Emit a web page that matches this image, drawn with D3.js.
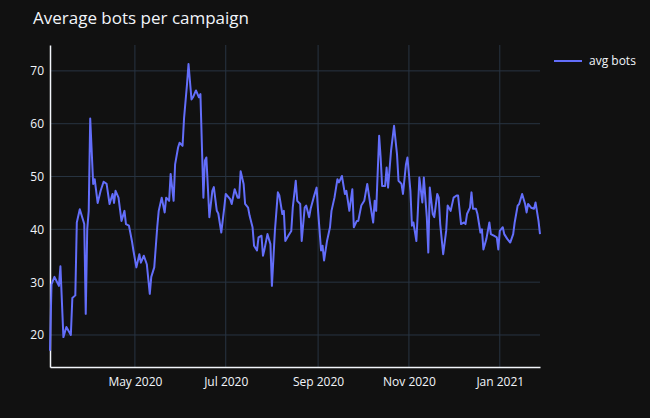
<!DOCTYPE html><html><head><meta charset="utf-8">
<script src="https://cdn.jsdelivr.net/npm/d3@7"></script>
<style>body{margin:0;background:#111}text{font-family:"Open Sans",sans-serif}</style></head><body>
<svg id="c" width="650" height="418"></svg>
<script>
const startDate = "2020-03-04";
const dayOffsets = [1,2,4,7,8,10,12,15,16,18,19,21,24,25,26,27,28,30,31,33,35,37,39,41,43,44,45,47,49,51,52,54,56,57,59,61,62,64,66,68,69,71,73,74,76,78,79,81,82,84,85,87,88,90,91,93,94,96,97,99,101,102,104,105,106,108,110,
111,113,114,116,118,119,122,123,125,127,128,129,131,132,134,135,137,138,140,141,143,144,145,147,149,150,152,154,155,157,158,159,161,163,164,166,167,169,170,172,173,175,176,178,180,181,183,184,185,187,189,190,192,194,195,197,199,200,202,204,205,207,208,210,212,214,215,
216,218,219,220,222,223,224,226,227,228,230,232,234,235,237,238,240,241,243,244,245,247,248,249,251,252,254,255,256,258,259,261,262,263,265,267,268,270,272,274,275,277,279,280,281,283,284,285,287,288,290,291,292,294,296,297,299,301,302,303,305,306,308,310,312,313,315,316,318,320,321,322,324,326,327,329,330];
const avgBots = [17,29.6,31,29.3,33,19.6,21.5,20,27,27.5,41.3,43.8,41,24,40,43.5,61,48.6,49.5,45,47.3,49,48.6,44.8,46.7,45,47.3,46,41.6,43.5,41,40.7,37.8,36,32.8,35.3,33.7,35,33.4,27.8,31,32.8,40.4,43.5,46,43.2,46,45.4,50.5,45.4,52.3,55.5,56.4,55.8,61,67.5,71.3,64.6,65,66.3,65,65.6,46,53,53.6,42.3,47.3,
48,43.5,43,39.4,44.1,46.7,45.7,44.8,47.6,46,46,51,48.6,44.8,44.1,42.6,40.4,36.9,36,38.5,38.8,35,36.2,39.1,37.2,29.3,39.7,47,46.4,42.9,43.5,37.8,38.8,39.7,44.1,49.2,45.4,44.8,37.8,44.1,44.5,42.3,43.9,46,47.9,43.5,36,36.9,34.1,37.8,40.4,43.5,46,49.5,48.9,50.1,46.7,47.3,43.5,47.6,40.4,41.6,41.6,44.5,45.4,48.6,46.7,
44.8,41.3,45.4,43.5,57.7,53.6,48.2,48.2,51.7,47.9,54.9,59.6,54.2,49.2,48.6,46.7,52.3,53.6,47.3,40.7,41.3,37.8,43.5,49.8,45.1,49.8,42.3,35.6,47.9,42.9,42.3,46.7,46,41,35.3,39.7,44.5,43.5,46,46.4,46.4,41,41.3,41,42.9,44.1,47,43.9,43.9,42.9,39.4,40,36.2,38.2,41.3,39.1,38.8,38.5,36.2,39.7,40.4,39.1,38.2,37.5,39.1,41.3,44.5,44.8,46.7,44.8,43.2,44.8,44.1,43.9,45.1,41.6,39.1];
const yTicks = [20,30,40,50,60,70];
const xTickDates = ["2020-05-01","2020-07-01","2020-09-01","2020-11-01","2021-01-01"];
const seriesName = "avg bots";

const svg = d3.select("#c");
const L=50,R=540,T=45,B=367;
svg.append("rect").attr("width",650).attr("height",418).attr("fill","#111111");
const p = d3.utcParse("%Y-%m-%d");
const t0 = p(startDate);
const data = dayOffsets.map((d,i)=>({x:d3.utcDay.offset(t0,d),y:avgBots[i]}));
const x = d3.scaleUtc().domain(d3.extent(data,d=>d.x)).range([L,R]);
const y = d3.scaleLinear().domain([13.94,74.9]).range([B,T]);
const xt = xTickDates.map(p);
const g = svg.append("g");
g.selectAll(".gy").data(yTicks).join("line").attr("x1",L).attr("x2",R).attr("y1",d=>y(d)).attr("y2",d=>y(d)).attr("stroke","#283442");
g.selectAll(".gx").data(xt).join("line").attr("y1",T).attr("y2",B).attr("x1",d=>x(d)).attr("x2",d=>x(d)).attr("stroke","#283442");
const ya = svg.append("g").attr("transform",`translate(${L},0)`).call(d3.axisLeft(y).tickValues(yTicks).tickSize(0).tickPadding(6));
const xa = svg.append("g").attr("transform",`translate(0,${B})`).call(d3.axisBottom(x).tickValues(xt).tickSize(0).tickPadding(10).tickFormat(d3.utcFormat("%b %Y")));
[ya,xa].forEach(a=>{a.select(".domain").attr("stroke","#f2f5fa").attr("stroke-width",1.5);a.selectAll("text").attr("fill","#f2f5fa").attr("font-size",12);});
svg.append("path").datum(data).attr("fill","none").attr("stroke","#636efa").attr("stroke-width",2).attr("stroke-linejoin","round")
  .attr("d",d3.line().x(d=>x(d.x)).y(d=>y(d.y)));
svg.append("text").attr("x",33).attr("y",24).attr("fill","#f2f5fa").attr("font-size",17).text("Average bots per campaign");
svg.append("line").attr("x1",554).attr("x2",582).attr("y1",61).attr("y2",61).attr("stroke","#636efa").attr("stroke-width",2);
svg.append("text").attr("x",589).attr("y",65).attr("fill","#f2f5fa").attr("font-size",12).text(seriesName);
</script></body></html>
